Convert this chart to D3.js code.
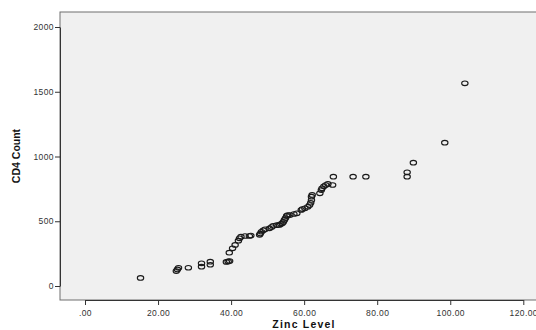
<!DOCTYPE html>
<html>
<head>
<meta charset="utf-8">
<script src="https://cdn.jsdelivr.net/npm/d3@7"></script>
<style>
  body { margin: 0; background: #fff; }
  svg { display: block; font-family: Arial, "Liberation Sans", sans-serif; }
</style>
</head>
<body>
<div id="chart"></div>
<script>
// Zinc level vs CD4 count
const zinc = [15.2, 25.0, 25.3, 25.6, 28.3, 31.9, 31.9, 34.3, 34.3, 38.7, 39.2, 39.6, 39.5, 40.4, 41.1,
  42.0, 42.3, 42.7, 43.8, 45.0, 45.4, 47.8, 48.0, 48.3, 48.8, 49.3, 50.5, 51.1, 51.5, 52.5,
  53.2, 53.6, 54.0, 54.3, 54.6, 54.9, 55.2, 55.5, 56.1, 57.2, 58.0, 59.2, 59.5, 60.2, 61.0,
  61.5, 61.8, 62.0, 62.0, 62.2, 64.3, 64.7, 64.9, 65.4, 65.9, 66.5, 67.8, 68.0, 73.4, 76.9,
  88.2, 88.2, 89.9, 98.5, 104.0];
const cd4 = [62, 115, 128, 140, 141, 149, 175, 164, 188, 186, 190, 193, 257, 291, 317,
  350, 368, 381, 386, 386, 390, 395, 405, 419, 430, 438, 445, 455, 465, 470,
  472, 478, 484, 495, 510, 525, 541, 548, 548, 556, 561, 587, 594, 600, 612,
  625, 643, 664, 690, 703, 716, 741, 754, 770, 780, 788, 780, 844, 844, 844,
  844, 878, 952, 1107, 1565];
const xTicks = [0, 20, 40, 60, 80, 100, 120];
const yTicks = [0, 500, 1000, 1500, 2000];

const W = 536, H = 330;
const margin = { top: 12, left: 60 };
const plotW = 490, plotH = 288;

const svg = d3.select('#chart').append('svg')
  .attr('width', W).attr('height', H);

const g = svg.append('g')
  .attr('transform', `translate(${margin.left},${margin.top})`);

const x = d3.scaleLinear().domain([0, 120]).range([25, 463.3]);
const y = d3.scaleLinear().domain([0, 2000]).range([274, 15]);

// plot background
g.append('rect')
  .attr('width', plotW).attr('height', plotH)
  .attr('fill', '#f0f0f0')
  .attr('stroke', '#6e6e6e')
  .attr('stroke-width', 1);

// axes
const xAxis = g.append('g')
  .attr('transform', `translate(0,${plotH})`)
  .call(d3.axisBottom(x).tickValues(xTicks).tickSize(5).tickSizeOuter(0)
    .tickFormat(d => d === 0 ? '.00' : d3.format('.2f')(d)));
const yAxis = g.append('g')
  .call(d3.axisLeft(y).tickValues(yTicks).tickSize(5).tickSizeOuter(0)
    .tickFormat(d3.format('d')));

[xAxis, yAxis].forEach(a => {
  a.select('.domain').attr('stroke', '#333');
  a.selectAll('.tick line').attr('stroke', '#333');
  a.selectAll('.tick text')
    .attr('fill', '#333')
    .style('font-size', '8.5px')
    .style('letter-spacing', '0.4px')
    .style('font-family', 'Arial, "Liberation Sans", sans-serif');
});
xAxis.selectAll('.tick text').attr('dy', '0.95em');
yAxis.selectAll('.tick text').attr('x', -6);

// points
g.append('g').selectAll('ellipse')
  .data(zinc.map((z, i) => ({ z, c: cd4[i] })))
  .join('ellipse')
  .attr('cx', d => x(d.z))
  .attr('cy', d => y(d.c))
  .attr('rx', 3.2)
  .attr('ry', 2.3)
  .attr('fill', 'none')
  .attr('stroke', '#1a1a1a')
  .attr('stroke-width', 1.1);

// axis titles
svg.append('text')
  .attr('x', 304).attr('y', 328)
  .attr('text-anchor', 'middle')
  .style('font-size', '10.5px')
  .style('font-weight', 'bold')
  .style('letter-spacing', '1.2px')
  .attr('fill', '#111')
  .text('Zinc Level');

svg.append('text')
  .attr('transform', 'translate(20,156) rotate(-90)')
  .attr('text-anchor', 'middle')
  .style('font-size', '10.5px')
  .style('font-weight', 'bold')
  .attr('fill', '#111')
  .text('CD4 Count');
</script>
</body>
</html>
